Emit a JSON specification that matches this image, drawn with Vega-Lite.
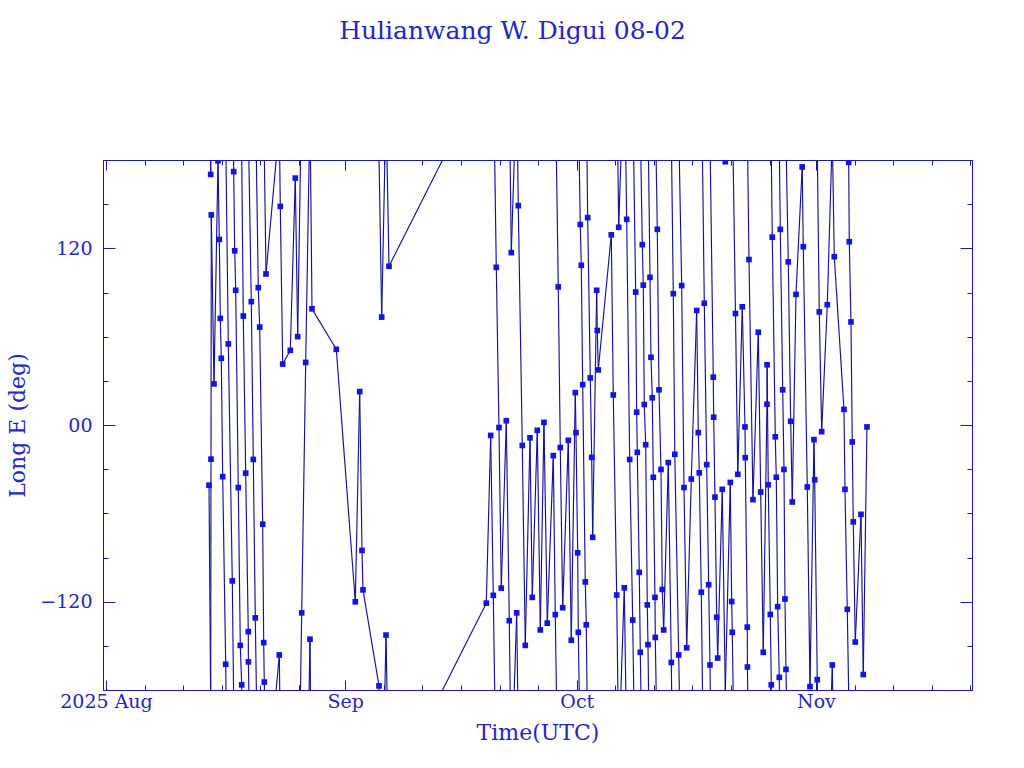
{
"$schema":"https://vega.github.io/schema/vega-lite/v6.json",
"width":869,"height":530,"autosize":"none",
"padding":{"left":103,"top":160,"right":52,"bottom":78},
"background":"white",
"title":{"text":"Hulianwang W. Digui 08-02","font":"DejaVu Serif","fontSize":25,"fontWeight":"normal","color":"#2525c0","anchor":"middle","offset":116,"dx":-25},
"config":{"view":{"stroke":"#1c1ca0","strokeWidth":1},
"axis":{"domainColor":"#1c1ca0","tickColor":"#1c1ca0","labelColor":"#2525c0","titleColor":"#2525c0","labelFont":"DejaVu Serif","titleFont":"DejaVu Serif","labelFontSize":19,"titleFontSize":22,"titleFontWeight":"normal","grid":false,"labelFlush":false,"labelOverlap":false,"tickWidth":1,"domainWidth":1}},
"datasets":{
"obs":[
{"t":"2025-08-14T08:20Z","lon":-40.9},{"t":"2025-08-14T13:36Z","lon":170.2},{"t":"2025-08-14T14:33Z","lon":-23.2},{"t":"2025-08-14T15:29Z","lon":142.7},{"t":"2025-08-14T23:53Z","lon":27.9},{"t":"2025-08-15T12:19Z","lon":179.5},{"t":"2025-08-15T16:21Z","lon":126},{"t":"2025-08-15T19:28Z","lon":72.4},{"t":"2025-08-15T22:35Z","lon":45.3},{"t":"2025-08-16T02:56Z","lon":-35.1},{"t":"2025-08-16T12:15Z","lon":-162.5},{"t":"2025-08-16T20:21Z","lon":55.1},{"t":"2025-08-17T08:47Z","lon":-105.9},{"t":"2025-08-17T13:08Z","lon":172.1},{"t":"2025-08-17T16:15Z","lon":118.3},{"t":"2025-08-17T19:22Z","lon":91.5},{"t":"2025-08-18T03:27Z","lon":-42.5},{"t":"2025-08-18T09:40Z","lon":-149.7},{"t":"2025-08-18T14:01Z","lon":-176.5},{"t":"2025-08-18T18:59Z","lon":74},{"t":"2025-08-19T02:27Z","lon":-32.7},{"t":"2025-08-19T10:32Z","lon":-140.4},{"t":"2025-08-19T10:50Z","lon":-160.9},{"t":"2025-08-19T19:52Z","lon":83.8},{"t":"2025-08-20T02:05Z","lon":-23.4},{"t":"2025-08-20T08:18Z","lon":-131},{"t":"2025-08-20T17:38Z","lon":93.3},{"t":"2025-08-20T22:00Z","lon":66.5},{"t":"2025-08-21T07:19Z","lon":-67.4},{"t":"2025-08-21T10:26Z","lon":-147.8},{"t":"2025-08-21T12:18Z","lon":-174.6},{"t":"2025-08-21T17:35Z","lon":102.6},{"t":"2025-08-23T10:58Z","lon":-156.2},{"t":"2025-08-23T14:04Z","lon":148.5},{"t":"2025-08-23T21:32Z","lon":41.4},{"t":"2025-08-24T21:10Z","lon":50.7},{"t":"2025-08-25T12:43Z","lon":167.7},{"t":"2025-08-25T20:11Z","lon":60},{"t":"2025-08-26T08:37Z","lon":-127.6},{"t":"2025-08-26T21:03Z","lon":42.5},{"t":"2025-08-27T10:25Z","lon":-145.5},{"t":"2025-08-27T16:38Z","lon":78.9},{"t":"2025-08-30T20:14Z","lon":51.4},{"t":"2025-09-02T07:19Z","lon":-120.1},{"t":"2025-09-02T21:00Z","lon":22.7},{"t":"2025-09-03T04:09Z","lon":-85.2},{"t":"2025-09-03T07:15Z","lon":-112},{"t":"2025-09-05T09:01Z","lon":-177.2},{"t":"2025-09-05T17:25Z","lon":73.3},{"t":"2025-09-06T06:48Z","lon":-142.7},{"t":"2025-09-06T16:07Z","lon":107.8},
{"t":"2025-09-19T06:43Z","lon":-121},{"t":"2025-09-19T20:24Z","lon":-7.1},{"t":"2025-09-20T04:28Z","lon":-115.7},{"t":"2025-09-20T13:48Z","lon":107.1},{"t":"2025-09-20T22:12Z","lon":-1.7},{"t":"2025-09-21T05:21Z","lon":-110.8},{"t":"2025-09-21T20:54Z","lon":2.9},{"t":"2025-09-22T06:14Z","lon":-132.9},{"t":"2025-09-22T12:27Z","lon":117.1},{"t":"2025-09-23T05:15Z","lon":-127.6},{"t":"2025-09-23T10:13Z","lon":149},{"t":"2025-09-23T22:39Z","lon":-13.9},{"t":"2025-09-24T07:59Z","lon":-149.7},{"t":"2025-09-24T22:36Z","lon":-8.7},{"t":"2025-09-25T05:46Z","lon":-117.1},{"t":"2025-09-25T21:19Z","lon":-3.6},{"t":"2025-09-26T06:39Z","lon":-139.2},{"t":"2025-09-26T18:09Z","lon":1.8},{"t":"2025-09-27T04:25Z","lon":-134.6},{"t":"2025-09-27T23:04Z","lon":-20.8},{"t":"2025-09-28T05:17Z","lon":-128.8},{"t":"2025-09-28T14:37Z","lon":93.8},{"t":"2025-09-28T20:50Z","lon":-15.3},{"t":"2025-09-29T04:18Z","lon":-124.1},{"t":"2025-09-29T21:43Z","lon":-10.4},{"t":"2025-09-30T07:03Z","lon":-146.2},{"t":"2025-09-30T19:29Z","lon":22},{"t":"2025-09-30T21:40Z","lon":-5.2},{"t":"2025-10-01T02:57Z","lon":-86.8},{"t":"2025-10-01T04:49Z","lon":-140.8},{"t":"2025-10-01T11:02Z","lon":136.2},{"t":"2025-10-01T14:10Z","lon":108.5},{"t":"2025-10-01T18:30Z","lon":27.4},{"t":"2025-10-02T02:36Z","lon":-106.6},{"t":"2025-10-02T05:43Z","lon":-135.7},{"t":"2025-10-02T10:03Z","lon":140.9},{"t":"2025-10-02T18:09Z","lon":32},{"t":"2025-10-02T22:29Z","lon":-22},{"t":"2025-10-03T01:36Z","lon":-76.3},{"t":"2025-10-03T14:02Z","lon":91.5},{"t":"2025-10-03T15:55Z","lon":64.2},{"t":"2025-10-03T19:00Z","lon":37.4},{"t":"2025-10-05T11:27Z","lon":129.2},{"t":"2025-10-05T17:40Z","lon":20.4},{"t":"2025-10-06T04:15Z","lon":-115.5},{"t":"2025-10-06T10:28Z","lon":134.3},{"t":"2025-10-07T03:53Z","lon":-110.6},{"t":"2025-10-07T11:20Z","lon":139.7},{"t":"2025-10-07T20:40Z","lon":-23.4},{"t":"2025-10-08T06:00Z","lon":-132.5},{"t":"2025-10-08T15:20Z","lon":90.3},{"t":"2025-10-08T18:26Z","lon":8.7},{"t":"2025-10-08T20:18Z","lon":-18.6},{"t":"2025-10-09T02:31Z","lon":-100.1},{"t":"2025-10-09T05:38Z","lon":-154.4},{"t":"2025-10-09T11:51Z","lon":122.5},{"t":"2025-10-09T14:59Z","lon":95},{"t":"2025-10-09T18:04Z","lon":13.9},{"t":"2025-10-09T22:26Z","lon":-13.4},{"t":"2025-10-10T03:24Z","lon":-122.2},{"t":"2025-10-10T05:35Z","lon":-149.2},{"t":"2025-10-10T11:48Z","lon":100.3},{"t":"2025-10-10T14:56Z","lon":46},{"t":"2025-10-10T18:58Z","lon":18.5},{"t":"2025-10-10T22:05Z","lon":-35.5},{"t":"2025-10-11T03:22Z","lon":-117.1},{"t":"2025-10-11T04:18Z","lon":-144.3},{"t":"2025-10-11T10:31Z","lon":132.9},{"t":"2025-10-11T15:48Z","lon":23.9},{"t":"2025-10-11T22:00Z","lon":-30.2},{"t":"2025-10-12T02:04Z","lon":-111.7},{"t":"2025-10-12T06:24Z","lon":-139.2},{"t":"2025-10-12T20:46Z","lon":-25.5},{"t":"2025-10-13T06:04Z","lon":-161.3},{"t":"2025-10-13T12:19Z","lon":89.2},{"t":"2025-10-13T16:58Z","lon":-19.9},{"t":"2025-10-14T05:04Z","lon":-156.2},{"t":"2025-10-14T14:24Z","lon":94.7},{"t":"2025-10-14T21:33Z","lon":-42.5},{"t":"2025-10-15T05:57Z","lon":-151.3},{"t":"2025-10-15T20:15Z","lon":-36.7},{"t":"2025-10-16T13:03Z","lon":77.8},{"t":"2025-10-16T18:01Z","lon":-5.2},{"t":"2025-10-16T21:07Z","lon":-32.5},{"t":"2025-10-17T03:22Z","lon":-113.6},{"t":"2025-10-17T12:42Z","lon":82.7},{"t":"2025-10-17T20:08Z","lon":-26.9},{"t":"2025-10-18T02:21Z","lon":-108.5},{"t":"2025-10-18T06:23Z","lon":-163},{"t":"2025-10-18T16:39Z","lon":32.5},{"t":"2025-10-18T17:54Z","lon":5.3},{"t":"2025-10-18T21:56Z","lon":-49},{"t":"2025-10-19T03:14Z","lon":-130.6},{"t":"2025-10-19T06:20Z","lon":-158.3},{"t":"2025-10-19T20:38Z","lon":-43.7},{"t":"2025-10-20T05:59Z","lon":178.8},{"t":"2025-10-20T21:32Z","lon":-39},{"t":"2025-10-21T01:54Z","lon":-119.9},{"t":"2025-10-21T03:45Z","lon":-140.8},{"t":"2025-10-21T13:42Z","lon":75.7},{"t":"2025-10-21T20:51Z","lon":-33.5},{"t":"2025-10-22T10:51Z","lon":80.3},{"t":"2025-10-22T19:15Z","lon":-1.3},{"t":"2025-10-22T20:11Z","lon":-22.2},{"t":"2025-10-23T02:24Z","lon":-137.3},{"t":"2025-10-23T02:53Z","lon":-164.4},{"t":"2025-10-23T07:41Z","lon":112.4},{"t":"2025-10-23T20:07Z","lon":-50.7},{"t":"2025-10-24T12:36Z","lon":63},{"t":"2025-10-24T20:04Z","lon":-45.5},{"t":"2025-10-25T04:09Z","lon":-154.4},{"t":"2025-10-25T15:39Z","lon":14.1},{"t":"2025-10-25T16:00Z","lon":40.9},{"t":"2025-10-25T19:42Z","lon":-40.6},{"t":"2025-10-26T01:55Z","lon":-128.7},{"t":"2025-10-26T05:02Z","lon":-176.5},{"t":"2025-10-26T08:10Z","lon":127.6},{"t":"2025-10-26T17:28Z","lon":-8},{"t":"2025-10-26T20:36Z","lon":-35.5},{"t":"2025-10-27T00:58Z","lon":-123.4},{"t":"2025-10-27T05:56Z","lon":-171.4},{"t":"2025-10-27T09:03Z","lon":132.9},{"t":"2025-10-27T16:31Z","lon":23.9},{"t":"2025-10-27T20:33Z","lon":-30.2},{"t":"2025-10-27T23:38Z","lon":-118.2},{"t":"2025-10-28T02:46Z","lon":-166},{"t":"2025-10-28T09:55Z","lon":110.8},{"t":"2025-10-28T17:23Z","lon":2.5},{"t":"2025-10-28T22:22Z","lon":-52.3},{"t":"2025-10-29T09:52Z","lon":88.7},{"t":"2025-10-30T05:08Z","lon":175.3},{"t":"2025-10-30T08:34Z","lon":121.1},{"t":"2025-10-30T21:00Z","lon":-42.1},{"t":"2025-10-31T05:23Z","lon":-177.7},{"t":"2025-10-31T17:50Z","lon":-9.9},{"t":"2025-10-31T20:01Z","lon":-37.2},{"t":"2025-11-01T04:06Z","lon":-173},{"t":"2025-11-01T10:19Z","lon":76.8},{"t":"2025-11-01T17:47Z","lon":-4.5},{"t":"2025-11-02T11:12Z","lon":81.7},{"t":"2025-11-03T02:46Z","lon":-163},{"t":"2025-11-03T08:59Z","lon":114.3},{"t":"2025-11-04T15:07Z","lon":10.6},{"t":"2025-11-04T18:14Z","lon":-43.7},{"t":"2025-11-05T01:24Z","lon":-125.2},{"t":"2025-11-05T05:44Z","lon":178.4},{"t":"2025-11-05T07:36Z","lon":124.5},{"t":"2025-11-05T12:53Z","lon":70},{"t":"2025-11-05T16:55Z","lon":-11.5},{"t":"2025-11-05T20:02Z","lon":-65.8},{"t":"2025-11-06T02:15Z","lon":-147.4},{"t":"2025-11-06T19:59Z","lon":-60.7},{"t":"2025-11-07T03:09Z","lon":-169.5},{"t":"2025-11-07T14:38Z","lon":-1.3}
],
"seg":[
{"t":"2025-08-14T08:20Z","u":"2025-08-14T13:36Z","a":-40.9,"b":-189.8},{"t":"2025-08-14T08:20Z","u":"2025-08-14T13:36Z","a":319.1,"b":170.2},
{"t":"2025-08-14T13:36Z","u":"2025-08-14T14:33Z","a":170.2,"b":336.8},{"t":"2025-08-14T13:36Z","u":"2025-08-14T14:33Z","a":-189.8,"b":-23.2},
{"t":"2025-08-14T14:33Z","u":"2025-08-14T15:29Z","a":-23.2,"b":142.7},
{"t":"2025-08-14T15:29Z","u":"2025-08-14T23:53Z","a":142.7,"b":27.9},
{"t":"2025-08-14T23:53Z","u":"2025-08-15T12:19Z","a":27.9,"b":179.5},
{"t":"2025-08-15T12:19Z","u":"2025-08-15T16:21Z","a":179.5,"b":126},
{"t":"2025-08-15T16:21Z","u":"2025-08-15T19:28Z","a":126,"b":72.4},
{"t":"2025-08-15T19:28Z","u":"2025-08-15T22:35Z","a":72.4,"b":45.3},
{"t":"2025-08-15T22:35Z","u":"2025-08-16T02:56Z","a":45.3,"b":-35.1},
{"t":"2025-08-16T02:56Z","u":"2025-08-16T12:15Z","a":-35.1,"b":-162.5},
{"t":"2025-08-16T12:15Z","u":"2025-08-16T20:21Z","a":-162.5,"b":-304.9},{"t":"2025-08-16T12:15Z","u":"2025-08-16T20:21Z","a":197.5,"b":55.1},
{"t":"2025-08-16T20:21Z","u":"2025-08-17T08:47Z","a":55.1,"b":-105.9},
{"t":"2025-08-17T08:47Z","u":"2025-08-17T13:08Z","a":-105.9,"b":-187.9},{"t":"2025-08-17T08:47Z","u":"2025-08-17T13:08Z","a":254.1,"b":172.1},
{"t":"2025-08-17T13:08Z","u":"2025-08-17T16:15Z","a":172.1,"b":118.3},
{"t":"2025-08-17T16:15Z","u":"2025-08-17T19:22Z","a":118.3,"b":91.5},
{"t":"2025-08-17T19:22Z","u":"2025-08-18T03:27Z","a":91.5,"b":-42.5},
{"t":"2025-08-18T03:27Z","u":"2025-08-18T09:40Z","a":-42.5,"b":-149.7},
{"t":"2025-08-18T09:40Z","u":"2025-08-18T14:01Z","a":-149.7,"b":-176.5},
{"t":"2025-08-18T14:01Z","u":"2025-08-18T18:59Z","a":-176.5,"b":-286},{"t":"2025-08-18T14:01Z","u":"2025-08-18T18:59Z","a":183.5,"b":74},
{"t":"2025-08-18T18:59Z","u":"2025-08-19T02:27Z","a":74,"b":-32.7},
{"t":"2025-08-19T02:27Z","u":"2025-08-19T10:32Z","a":-32.7,"b":-140.4},
{"t":"2025-08-19T10:32Z","u":"2025-08-19T10:50Z","a":-140.4,"b":-160.9},
{"t":"2025-08-19T10:50Z","u":"2025-08-19T19:52Z","a":-160.9,"b":-276.2},{"t":"2025-08-19T10:50Z","u":"2025-08-19T19:52Z","a":199.1,"b":83.8},
{"t":"2025-08-19T19:52Z","u":"2025-08-20T02:05Z","a":83.8,"b":-23.4},
{"t":"2025-08-20T02:05Z","u":"2025-08-20T08:18Z","a":-23.4,"b":-131},
{"t":"2025-08-20T08:18Z","u":"2025-08-20T17:38Z","a":-131,"b":-266.7},{"t":"2025-08-20T08:18Z","u":"2025-08-20T17:38Z","a":229,"b":93.3},
{"t":"2025-08-20T17:38Z","u":"2025-08-20T22:00Z","a":93.3,"b":66.5},
{"t":"2025-08-20T22:00Z","u":"2025-08-21T07:19Z","a":66.5,"b":-67.4},
{"t":"2025-08-21T07:19Z","u":"2025-08-21T10:26Z","a":-67.4,"b":-147.8},
{"t":"2025-08-21T10:26Z","u":"2025-08-21T12:18Z","a":-147.8,"b":-174.6},
{"t":"2025-08-21T12:18Z","u":"2025-08-21T17:35Z","a":-174.6,"b":-257.4},{"t":"2025-08-21T12:18Z","u":"2025-08-21T17:35Z","a":185.4,"b":102.6},
{"t":"2025-08-21T17:35Z","u":"2025-08-23T10:58Z","a":102.6,"b":203.8},{"t":"2025-08-21T17:35Z","u":"2025-08-23T10:58Z","a":-257.4,"b":-156.2},
{"t":"2025-08-23T10:58Z","u":"2025-08-23T14:04Z","a":-156.2,"b":-211.5},{"t":"2025-08-23T10:58Z","u":"2025-08-23T14:04Z","a":203.8,"b":148.5},
{"t":"2025-08-23T14:04Z","u":"2025-08-23T21:32Z","a":148.5,"b":41.4},
{"t":"2025-08-23T21:32Z","u":"2025-08-24T21:10Z","a":41.4,"b":50.7},
{"t":"2025-08-24T21:10Z","u":"2025-08-25T12:43Z","a":50.7,"b":167.7},
{"t":"2025-08-25T12:43Z","u":"2025-08-25T20:11Z","a":167.7,"b":60},
{"t":"2025-08-25T20:11Z","u":"2025-08-26T08:37Z","a":60,"b":232.4},{"t":"2025-08-25T20:11Z","u":"2025-08-26T08:37Z","a":-300,"b":-127.6},
{"t":"2025-08-26T08:37Z","u":"2025-08-26T21:03Z","a":-127.6,"b":42.5},
{"t":"2025-08-26T21:03Z","u":"2025-08-27T10:25Z","a":42.5,"b":214.5},{"t":"2025-08-26T21:03Z","u":"2025-08-27T10:25Z","a":-317.5,"b":-145.5},
{"t":"2025-08-27T10:25Z","u":"2025-08-27T16:38Z","a":-145.5,"b":-281.1},{"t":"2025-08-27T10:25Z","u":"2025-08-27T16:38Z","a":214.5,"b":78.9},
{"t":"2025-08-27T16:38Z","u":"2025-08-30T20:14Z","a":78.9,"b":51.4},
{"t":"2025-08-30T20:14Z","u":"2025-09-02T07:19Z","a":51.4,"b":-120.1},
{"t":"2025-09-02T07:19Z","u":"2025-09-02T21:00Z","a":-120.1,"b":22.7},
{"t":"2025-09-02T21:00Z","u":"2025-09-03T04:09Z","a":22.7,"b":-85.2},
{"t":"2025-09-03T04:09Z","u":"2025-09-03T07:15Z","a":-85.2,"b":-112},
{"t":"2025-09-03T07:15Z","u":"2025-09-05T09:01Z","a":-112,"b":-177.2},
{"t":"2025-09-05T09:01Z","u":"2025-09-05T17:25Z","a":-177.2,"b":-286.7},{"t":"2025-09-05T09:01Z","u":"2025-09-05T17:25Z","a":182.8,"b":73.3},
{"t":"2025-09-05T17:25Z","u":"2025-09-06T06:48Z","a":73.3,"b":217.3},{"t":"2025-09-05T17:25Z","u":"2025-09-06T06:48Z","a":-286.7,"b":-142.7},
{"t":"2025-09-06T06:48Z","u":"2025-09-06T16:07Z","a":-142.7,"b":-252.2},{"t":"2025-09-06T06:48Z","u":"2025-09-06T16:07Z","a":217.3,"b":107.8},
{"t":"2025-09-06T16:07Z","u":"2025-09-19T06:43Z","a":107.8,"b":239},{"t":"2025-09-06T16:07Z","u":"2025-09-19T06:43Z","a":-252.2,"b":-121},
{"t":"2025-09-19T06:43Z","u":"2025-09-19T20:24Z","a":-121,"b":-7.1},
{"t":"2025-09-19T20:24Z","u":"2025-09-20T04:28Z","a":-7.1,"b":-115.7},
{"t":"2025-09-20T04:28Z","u":"2025-09-20T13:48Z","a":-115.7,"b":-252.9},{"t":"2025-09-20T04:28Z","u":"2025-09-20T13:48Z","a":244.3,"b":107.1},
{"t":"2025-09-20T13:48Z","u":"2025-09-20T22:12Z","a":107.1,"b":-1.7},
{"t":"2025-09-20T22:12Z","u":"2025-09-21T05:21Z","a":-1.7,"b":-110.8},
{"t":"2025-09-21T05:21Z","u":"2025-09-21T20:54Z","a":-110.8,"b":2.9},
{"t":"2025-09-21T20:54Z","u":"2025-09-22T06:14Z","a":2.9,"b":-132.9},
{"t":"2025-09-22T06:14Z","u":"2025-09-22T12:27Z","a":-132.9,"b":-242.9},{"t":"2025-09-22T06:14Z","u":"2025-09-22T12:27Z","a":227.1,"b":117.1},
{"t":"2025-09-22T12:27Z","u":"2025-09-23T05:15Z","a":117.1,"b":232.4},{"t":"2025-09-22T12:27Z","u":"2025-09-23T05:15Z","a":-242.9,"b":-127.6},
{"t":"2025-09-23T05:15Z","u":"2025-09-23T10:13Z","a":-127.6,"b":-211},{"t":"2025-09-23T05:15Z","u":"2025-09-23T10:13Z","a":232.4,"b":149},
{"t":"2025-09-23T10:13Z","u":"2025-09-23T22:39Z","a":149,"b":-13.9},
{"t":"2025-09-23T22:39Z","u":"2025-09-24T07:59Z","a":-13.9,"b":-149.7},
{"t":"2025-09-24T07:59Z","u":"2025-09-24T22:36Z","a":-149.7,"b":-8.7},
{"t":"2025-09-24T22:36Z","u":"2025-09-25T05:46Z","a":-8.7,"b":-117.1},
{"t":"2025-09-25T05:46Z","u":"2025-09-25T21:19Z","a":-117.1,"b":-3.6},
{"t":"2025-09-25T21:19Z","u":"2025-09-26T06:39Z","a":-3.6,"b":-139.2},
{"t":"2025-09-26T06:39Z","u":"2025-09-26T18:09Z","a":-139.2,"b":1.8},
{"t":"2025-09-26T18:09Z","u":"2025-09-27T04:25Z","a":1.8,"b":-134.6},
{"t":"2025-09-27T04:25Z","u":"2025-09-27T23:04Z","a":-134.6,"b":-20.8},
{"t":"2025-09-27T23:04Z","u":"2025-09-28T05:17Z","a":-20.8,"b":-128.8},
{"t":"2025-09-28T05:17Z","u":"2025-09-28T14:37Z","a":-128.8,"b":-266.2},{"t":"2025-09-28T05:17Z","u":"2025-09-28T14:37Z","a":231.2,"b":93.8},
{"t":"2025-09-28T14:37Z","u":"2025-09-28T20:50Z","a":93.8,"b":-15.3},
{"t":"2025-09-28T20:50Z","u":"2025-09-29T04:18Z","a":-15.3,"b":-124.1},
{"t":"2025-09-29T04:18Z","u":"2025-09-29T21:43Z","a":-124.1,"b":-10.4},
{"t":"2025-09-29T21:43Z","u":"2025-09-30T07:03Z","a":-10.4,"b":-146.2},
{"t":"2025-09-30T07:03Z","u":"2025-09-30T19:29Z","a":-146.2,"b":22},
{"t":"2025-09-30T19:29Z","u":"2025-09-30T21:40Z","a":22,"b":-5.2},
{"t":"2025-09-30T21:40Z","u":"2025-10-01T02:57Z","a":-5.2,"b":-86.8},
{"t":"2025-10-01T02:57Z","u":"2025-10-01T04:49Z","a":-86.8,"b":-140.8},
{"t":"2025-10-01T04:49Z","u":"2025-10-01T11:02Z","a":-140.8,"b":-223.8},{"t":"2025-10-01T04:49Z","u":"2025-10-01T11:02Z","a":219.2,"b":136.2},
{"t":"2025-10-01T11:02Z","u":"2025-10-01T14:10Z","a":136.2,"b":108.5},
{"t":"2025-10-01T14:10Z","u":"2025-10-01T18:30Z","a":108.5,"b":27.4},
{"t":"2025-10-01T18:30Z","u":"2025-10-02T02:36Z","a":27.4,"b":-106.6},
{"t":"2025-10-02T02:36Z","u":"2025-10-02T05:43Z","a":-106.6,"b":-135.7},
{"t":"2025-10-02T05:43Z","u":"2025-10-02T10:03Z","a":-135.7,"b":-219.1},{"t":"2025-10-02T05:43Z","u":"2025-10-02T10:03Z","a":224.3,"b":140.9},
{"t":"2025-10-02T10:03Z","u":"2025-10-02T18:09Z","a":140.9,"b":32},
{"t":"2025-10-02T18:09Z","u":"2025-10-02T22:29Z","a":32,"b":-22},
{"t":"2025-10-02T22:29Z","u":"2025-10-03T01:36Z","a":-22,"b":-76.3},
{"t":"2025-10-03T01:36Z","u":"2025-10-03T14:02Z","a":-76.3,"b":91.5},
{"t":"2025-10-03T14:02Z","u":"2025-10-03T15:55Z","a":91.5,"b":64.2},
{"t":"2025-10-03T15:55Z","u":"2025-10-03T19:00Z","a":64.2,"b":37.4},
{"t":"2025-10-03T19:00Z","u":"2025-10-05T11:27Z","a":37.4,"b":129.2},
{"t":"2025-10-05T11:27Z","u":"2025-10-05T17:40Z","a":129.2,"b":20.4},
{"t":"2025-10-05T17:40Z","u":"2025-10-06T04:15Z","a":20.4,"b":-115.5},
{"t":"2025-10-06T04:15Z","u":"2025-10-06T10:28Z","a":-115.5,"b":-225.7},{"t":"2025-10-06T04:15Z","u":"2025-10-06T10:28Z","a":244.5,"b":134.3},
{"t":"2025-10-06T10:28Z","u":"2025-10-07T03:53Z","a":134.3,"b":249.4},{"t":"2025-10-06T10:28Z","u":"2025-10-07T03:53Z","a":-225.7,"b":-110.6},
{"t":"2025-10-07T03:53Z","u":"2025-10-07T11:20Z","a":-110.6,"b":-220.3},{"t":"2025-10-07T03:53Z","u":"2025-10-07T11:20Z","a":249.4,"b":139.7},
{"t":"2025-10-07T11:20Z","u":"2025-10-07T20:40Z","a":139.7,"b":-23.4},
{"t":"2025-10-07T20:40Z","u":"2025-10-08T06:00Z","a":-23.4,"b":-132.5},
{"t":"2025-10-08T06:00Z","u":"2025-10-08T15:20Z","a":-132.5,"b":-269.7},{"t":"2025-10-08T06:00Z","u":"2025-10-08T15:20Z","a":227.5,"b":90.3},
{"t":"2025-10-08T15:20Z","u":"2025-10-08T18:26Z","a":90.3,"b":8.7},
{"t":"2025-10-08T18:26Z","u":"2025-10-08T20:18Z","a":8.7,"b":-18.6},
{"t":"2025-10-08T20:18Z","u":"2025-10-09T02:31Z","a":-18.6,"b":-100.1},
{"t":"2025-10-09T02:31Z","u":"2025-10-09T05:38Z","a":-100.1,"b":-154.4},
{"t":"2025-10-09T05:38Z","u":"2025-10-09T11:51Z","a":-154.4,"b":-237.5},{"t":"2025-10-09T05:38Z","u":"2025-10-09T11:51Z","a":205.6,"b":122.5},
{"t":"2025-10-09T11:51Z","u":"2025-10-09T14:59Z","a":122.5,"b":95},
{"t":"2025-10-09T14:59Z","u":"2025-10-09T18:04Z","a":95,"b":13.9},
{"t":"2025-10-09T18:04Z","u":"2025-10-09T22:26Z","a":13.9,"b":-13.4},
{"t":"2025-10-09T22:26Z","u":"2025-10-10T03:24Z","a":-13.4,"b":-122.2},
{"t":"2025-10-10T03:24Z","u":"2025-10-10T05:35Z","a":-122.2,"b":-149.2},
{"t":"2025-10-10T05:35Z","u":"2025-10-10T11:48Z","a":-149.2,"b":-259.7},{"t":"2025-10-10T05:35Z","u":"2025-10-10T11:48Z","a":210.8,"b":100.3},
{"t":"2025-10-10T11:48Z","u":"2025-10-10T14:56Z","a":100.3,"b":46},
{"t":"2025-10-10T14:56Z","u":"2025-10-10T18:58Z","a":46,"b":18.5},
{"t":"2025-10-10T18:58Z","u":"2025-10-10T22:05Z","a":18.5,"b":-35.5},
{"t":"2025-10-10T22:05Z","u":"2025-10-11T03:22Z","a":-35.5,"b":-117.1},
{"t":"2025-10-11T03:22Z","u":"2025-10-11T04:18Z","a":-117.1,"b":-144.3},
{"t":"2025-10-11T04:18Z","u":"2025-10-11T10:31Z","a":-144.3,"b":-227.1},{"t":"2025-10-11T04:18Z","u":"2025-10-11T10:31Z","a":215.7,"b":132.9},
{"t":"2025-10-11T10:31Z","u":"2025-10-11T15:48Z","a":132.9,"b":23.9},
{"t":"2025-10-11T15:48Z","u":"2025-10-11T22:00Z","a":23.9,"b":-30.2},
{"t":"2025-10-11T22:00Z","u":"2025-10-12T02:04Z","a":-30.2,"b":-111.7},
{"t":"2025-10-12T02:04Z","u":"2025-10-12T06:24Z","a":-111.7,"b":-139.2},
{"t":"2025-10-12T06:24Z","u":"2025-10-12T20:46Z","a":-139.2,"b":-25.5},
{"t":"2025-10-12T20:46Z","u":"2025-10-13T06:04Z","a":-25.5,"b":-161.3},
{"t":"2025-10-13T06:04Z","u":"2025-10-13T12:19Z","a":-161.3,"b":-270.8},{"t":"2025-10-13T06:04Z","u":"2025-10-13T12:19Z","a":198.7,"b":89.2},
{"t":"2025-10-13T12:19Z","u":"2025-10-13T16:58Z","a":89.2,"b":-19.9},
{"t":"2025-10-13T16:58Z","u":"2025-10-14T05:04Z","a":-19.9,"b":-156.2},
{"t":"2025-10-14T05:04Z","u":"2025-10-14T14:24Z","a":-156.2,"b":-265.3},{"t":"2025-10-14T05:04Z","u":"2025-10-14T14:24Z","a":203.8,"b":94.7},
{"t":"2025-10-14T14:24Z","u":"2025-10-14T21:33Z","a":94.7,"b":-42.5},
{"t":"2025-10-14T21:33Z","u":"2025-10-15T05:57Z","a":-42.5,"b":-151.3},
{"t":"2025-10-15T05:57Z","u":"2025-10-15T20:15Z","a":-151.3,"b":-36.7},
{"t":"2025-10-15T20:15Z","u":"2025-10-16T13:03Z","a":-36.7,"b":77.8},
{"t":"2025-10-16T13:03Z","u":"2025-10-16T18:01Z","a":77.8,"b":-5.2},
{"t":"2025-10-16T18:01Z","u":"2025-10-16T21:07Z","a":-5.2,"b":-32.5},
{"t":"2025-10-16T21:07Z","u":"2025-10-17T03:22Z","a":-32.5,"b":-113.6},
{"t":"2025-10-17T03:22Z","u":"2025-10-17T12:42Z","a":-113.6,"b":-277.3},{"t":"2025-10-17T03:22Z","u":"2025-10-17T12:42Z","a":246.4,"b":82.7},
{"t":"2025-10-17T12:42Z","u":"2025-10-17T20:08Z","a":82.7,"b":-26.9},
{"t":"2025-10-17T20:08Z","u":"2025-10-18T02:21Z","a":-26.9,"b":-108.5},
{"t":"2025-10-18T02:21Z","u":"2025-10-18T06:23Z","a":-108.5,"b":-163},
{"t":"2025-10-18T06:23Z","u":"2025-10-18T16:39Z","a":-163,"b":-327.5},{"t":"2025-10-18T06:23Z","u":"2025-10-18T16:39Z","a":197,"b":32.5},
{"t":"2025-10-18T16:39Z","u":"2025-10-18T17:54Z","a":32.5,"b":5.3},
{"t":"2025-10-18T17:54Z","u":"2025-10-18T21:56Z","a":5.3,"b":-49},
{"t":"2025-10-18T21:56Z","u":"2025-10-19T03:14Z","a":-49,"b":-130.6},
{"t":"2025-10-19T03:14Z","u":"2025-10-19T06:20Z","a":-130.6,"b":-158.3},
{"t":"2025-10-19T06:20Z","u":"2025-10-19T20:38Z","a":-158.3,"b":-43.7},
{"t":"2025-10-19T20:38Z","u":"2025-10-20T05:59Z","a":-43.7,"b":-181.2},{"t":"2025-10-19T20:38Z","u":"2025-10-20T05:59Z","a":316.3,"b":178.8},
{"t":"2025-10-20T05:59Z","u":"2025-10-20T21:32Z","a":178.8,"b":321},{"t":"2025-10-20T05:59Z","u":"2025-10-20T21:32Z","a":-181.2,"b":-39},
{"t":"2025-10-20T21:32Z","u":"2025-10-21T01:54Z","a":-39,"b":-119.9},
{"t":"2025-10-21T01:54Z","u":"2025-10-21T03:45Z","a":-119.9,"b":-140.8},
{"t":"2025-10-21T03:45Z","u":"2025-10-21T13:42Z","a":-140.8,"b":-284.3},{"t":"2025-10-21T03:45Z","u":"2025-10-21T13:42Z","a":219.2,"b":75.7},
{"t":"2025-10-21T13:42Z","u":"2025-10-21T20:51Z","a":75.7,"b":-33.5},
{"t":"2025-10-21T20:51Z","u":"2025-10-22T10:51Z","a":-33.5,"b":80.3},
{"t":"2025-10-22T10:51Z","u":"2025-10-22T19:15Z","a":80.3,"b":-1.3},
{"t":"2025-10-22T19:15Z","u":"2025-10-22T20:11Z","a":-1.3,"b":-22.2},
{"t":"2025-10-22T20:11Z","u":"2025-10-23T02:24Z","a":-22.2,"b":-137.3},
{"t":"2025-10-23T02:24Z","u":"2025-10-23T02:53Z","a":-137.3,"b":-164.4},
{"t":"2025-10-23T02:53Z","u":"2025-10-23T07:41Z","a":-164.4,"b":-247.6},{"t":"2025-10-23T02:53Z","u":"2025-10-23T07:41Z","a":195.6,"b":112.4},
{"t":"2025-10-23T07:41Z","u":"2025-10-23T20:07Z","a":112.4,"b":-50.7},
{"t":"2025-10-23T20:07Z","u":"2025-10-24T12:36Z","a":-50.7,"b":63},
{"t":"2025-10-24T12:36Z","u":"2025-10-24T20:04Z","a":63,"b":-45.5},
{"t":"2025-10-24T20:04Z","u":"2025-10-25T04:09Z","a":-45.5,"b":-154.4},
{"t":"2025-10-25T04:09Z","u":"2025-10-25T15:39Z","a":-154.4,"b":14.1},
{"t":"2025-10-25T15:39Z","u":"2025-10-25T16:00Z","a":14.1,"b":40.9},
{"t":"2025-10-25T16:00Z","u":"2025-10-25T19:42Z","a":40.9,"b":-40.6},
{"t":"2025-10-25T19:42Z","u":"2025-10-26T01:55Z","a":-40.6,"b":-128.7},
{"t":"2025-10-26T01:55Z","u":"2025-10-26T05:02Z","a":-128.7,"b":-176.5},
{"t":"2025-10-26T05:02Z","u":"2025-10-26T08:10Z","a":-176.5,"b":-232.4},{"t":"2025-10-26T05:02Z","u":"2025-10-26T08:10Z","a":183.5,"b":127.6},
{"t":"2025-10-26T08:10Z","u":"2025-10-26T17:28Z","a":127.6,"b":-8},
{"t":"2025-10-26T17:28Z","u":"2025-10-26T20:36Z","a":-8,"b":-35.5},
{"t":"2025-10-26T20:36Z","u":"2025-10-27T00:58Z","a":-35.5,"b":-123.4},
{"t":"2025-10-27T00:58Z","u":"2025-10-27T05:56Z","a":-123.4,"b":-171.4},
{"t":"2025-10-27T05:56Z","u":"2025-10-27T09:03Z","a":-171.4,"b":-227.1},{"t":"2025-10-27T05:56Z","u":"2025-10-27T09:03Z","a":188.6,"b":132.9},
{"t":"2025-10-27T09:03Z","u":"2025-10-27T16:31Z","a":132.9,"b":23.9},
{"t":"2025-10-27T16:31Z","u":"2025-10-27T20:33Z","a":23.9,"b":-30.2},
{"t":"2025-10-27T20:33Z","u":"2025-10-27T23:38Z","a":-30.2,"b":-118.2},
{"t":"2025-10-27T23:38Z","u":"2025-10-28T02:46Z","a":-118.2,"b":-166},
{"t":"2025-10-28T02:46Z","u":"2025-10-28T09:55Z","a":-166,"b":-249.2},{"t":"2025-10-28T02:46Z","u":"2025-10-28T09:55Z","a":194,"b":110.8},
{"t":"2025-10-28T09:55Z","u":"2025-10-28T17:23Z","a":110.8,"b":2.5},
{"t":"2025-10-28T17:23Z","u":"2025-10-28T22:22Z","a":2.5,"b":-52.3},
{"t":"2025-10-28T22:22Z","u":"2025-10-29T09:52Z","a":-52.3,"b":88.7},
{"t":"2025-10-29T09:52Z","u":"2025-10-30T05:08Z","a":88.7,"b":175.3},
{"t":"2025-10-30T05:08Z","u":"2025-10-30T08:34Z","a":175.3,"b":121.1},
{"t":"2025-10-30T08:34Z","u":"2025-10-30T21:00Z","a":121.1,"b":-42.1},
{"t":"2025-10-30T21:00Z","u":"2025-10-31T05:23Z","a":-42.1,"b":-177.7},
{"t":"2025-10-31T05:23Z","u":"2025-10-31T17:50Z","a":-177.7,"b":-9.9},
{"t":"2025-10-31T17:50Z","u":"2025-10-31T20:01Z","a":-9.9,"b":-37.2},
{"t":"2025-10-31T20:01Z","u":"2025-11-01T04:06Z","a":-37.2,"b":-173},
{"t":"2025-11-01T04:06Z","u":"2025-11-01T10:19Z","a":-173,"b":-283.2},{"t":"2025-11-01T04:06Z","u":"2025-11-01T10:19Z","a":187,"b":76.8},
{"t":"2025-11-01T10:19Z","u":"2025-11-01T17:47Z","a":76.8,"b":-4.5},
{"t":"2025-11-01T17:47Z","u":"2025-11-02T11:12Z","a":-4.5,"b":81.7},
{"t":"2025-11-02T11:12Z","u":"2025-11-03T02:46Z","a":81.7,"b":197},{"t":"2025-11-02T11:12Z","u":"2025-11-03T02:46Z","a":-278.3,"b":-163},
{"t":"2025-11-03T02:46Z","u":"2025-11-03T08:59Z","a":-163,"b":-245.7},{"t":"2025-11-03T02:46Z","u":"2025-11-03T08:59Z","a":197,"b":114.3},
{"t":"2025-11-03T08:59Z","u":"2025-11-04T15:07Z","a":114.3,"b":10.6},
{"t":"2025-11-04T15:07Z","u":"2025-11-04T18:14Z","a":10.6,"b":-43.7},
{"t":"2025-11-04T18:14Z","u":"2025-11-05T01:24Z","a":-43.7,"b":-125.2},
{"t":"2025-11-05T01:24Z","u":"2025-11-05T05:44Z","a":-125.2,"b":-181.6},{"t":"2025-11-05T01:24Z","u":"2025-11-05T05:44Z","a":238.8,"b":178.4},
{"t":"2025-11-05T05:44Z","u":"2025-11-05T07:36Z","a":178.4,"b":124.5},
{"t":"2025-11-05T07:36Z","u":"2025-11-05T12:53Z","a":124.5,"b":70},
{"t":"2025-11-05T12:53Z","u":"2025-11-05T16:55Z","a":70,"b":-11.5},
{"t":"2025-11-05T16:55Z","u":"2025-11-05T20:02Z","a":-11.5,"b":-65.8},
{"t":"2025-11-05T20:02Z","u":"2025-11-06T02:15Z","a":-65.8,"b":-147.4},
{"t":"2025-11-06T02:15Z","u":"2025-11-06T19:59Z","a":-147.4,"b":-60.7},
{"t":"2025-11-06T19:59Z","u":"2025-11-07T03:09Z","a":-60.7,"b":-169.5},
{"t":"2025-11-07T03:09Z","u":"2025-11-07T14:38Z","a":-169.5,"b":-1.3}
]},
"layer":[
{"data":{"name":"seg"},
"mark":{"type":"rule","color":"#14148f","strokeWidth":1.15,"clip":true},
"encoding":{
"x":{"field":"t","type":"temporal","scale":{"type":"utc","domain":[{"year":2025,"month":"Jul","date":31,"hours":14,"minutes":40,"utc":true},{"year":2025,"month":"Nov","date":21,"hours":5,"minutes":17,"utc":true}]},
"axis":{"orient":"bottom","title":"Time(UTC)","titleX":434.5,"titleY":42,"titleBaseline":"middle",
"values":[{"year":2025,"month":"Aug","date":1,"utc":true},{"year":2025,"month":"Aug","date":6,"utc":true},{"year":2025,"month":"Aug","date":11,"utc":true},{"year":2025,"month":"Aug","date":16,"utc":true},{"year":2025,"month":"Aug","date":21,"utc":true},{"year":2025,"month":"Aug","date":26,"utc":true},{"year":2025,"month":"Sep","date":1,"utc":true},{"year":2025,"month":"Sep","date":6,"utc":true},{"year":2025,"month":"Sep","date":11,"utc":true},{"year":2025,"month":"Sep","date":16,"utc":true},{"year":2025,"month":"Sep","date":21,"utc":true},{"year":2025,"month":"Sep","date":26,"utc":true},{"year":2025,"month":"Oct","date":1,"utc":true},{"year":2025,"month":"Oct","date":6,"utc":true},{"year":2025,"month":"Oct","date":11,"utc":true},{"year":2025,"month":"Oct","date":16,"utc":true},{"year":2025,"month":"Oct","date":21,"utc":true},{"year":2025,"month":"Oct","date":26,"utc":true},{"year":2025,"month":"Nov","date":1,"utc":true},{"year":2025,"month":"Nov","date":6,"utc":true},{"year":2025,"month":"Nov","date":11,"utc":true},{"year":2025,"month":"Nov","date":16,"utc":true},{"year":2025,"month":"Nov","date":21,"utc":true}],
"labelExpr":"utcdate(datum.value) == 1 ? (utcmonth(datum.value) == 7 ? '2025 Aug' : utcFormat(datum.value, '%b')) : ''",
"tickSize":{"condition":{"test":"utcdate(datum.value) == 1","value":-10},"value":-5},
"labelPadding":12}},
"x2":{"field":"u"},
"y":{"field":"a","type":"quantitative","scale":{"domain":[-180,180],"nice":false,"zero":false},
"axis":{"orient":"left","title":"Long E (deg)","titleX":-86,"titleY":265,"titleBaseline":"middle","titleAngle":270,
"values":[-150,-120,-90,-60,-30,0,30,60,90,120,150],
"labelExpr":"datum.value == 0 ? '00' : datum.value == 120 ? '120' : datum.value == -120 ? '−120' : ''",
"tickSize":{"condition":{"test":"datum.value % 120 == 0","value":-12},"value":-5},
"labelPadding":23}},
"y2":{"field":"b"}}},
{"data":{"name":"obs"},
"mark":{"type":"square","size":32,"filled":true,"color":"#1414e0","opacity":1,"clip":true},
"encoding":{
"x":{"field":"t","type":"temporal",
"axis":{"orient":"top","title":null,"labels":false,
"values":[{"year":2025,"month":"Aug","date":1,"utc":true},{"year":2025,"month":"Aug","date":6,"utc":true},{"year":2025,"month":"Aug","date":11,"utc":true},{"year":2025,"month":"Aug","date":16,"utc":true},{"year":2025,"month":"Aug","date":21,"utc":true},{"year":2025,"month":"Aug","date":26,"utc":true},{"year":2025,"month":"Sep","date":1,"utc":true},{"year":2025,"month":"Sep","date":6,"utc":true},{"year":2025,"month":"Sep","date":11,"utc":true},{"year":2025,"month":"Sep","date":16,"utc":true},{"year":2025,"month":"Sep","date":21,"utc":true},{"year":2025,"month":"Sep","date":26,"utc":true},{"year":2025,"month":"Oct","date":1,"utc":true},{"year":2025,"month":"Oct","date":6,"utc":true},{"year":2025,"month":"Oct","date":11,"utc":true},{"year":2025,"month":"Oct","date":16,"utc":true},{"year":2025,"month":"Oct","date":21,"utc":true},{"year":2025,"month":"Oct","date":26,"utc":true},{"year":2025,"month":"Nov","date":1,"utc":true},{"year":2025,"month":"Nov","date":6,"utc":true},{"year":2025,"month":"Nov","date":11,"utc":true},{"year":2025,"month":"Nov","date":16,"utc":true},{"year":2025,"month":"Nov","date":21,"utc":true}],
"tickSize":{"condition":{"test":"utcdate(datum.value) == 1","value":-10},"value":-5}}},
"y":{"field":"lon","type":"quantitative",
"axis":{"orient":"right","title":null,"labels":false,
"values":[-150,-120,-90,-60,-30,0,30,60,90,120,150],
"tickSize":{"condition":{"test":"datum.value % 120 == 0","value":-12},"value":-5}}}}}
],
"resolve":{"axis":{"x":"independent","y":"independent"}}
}
